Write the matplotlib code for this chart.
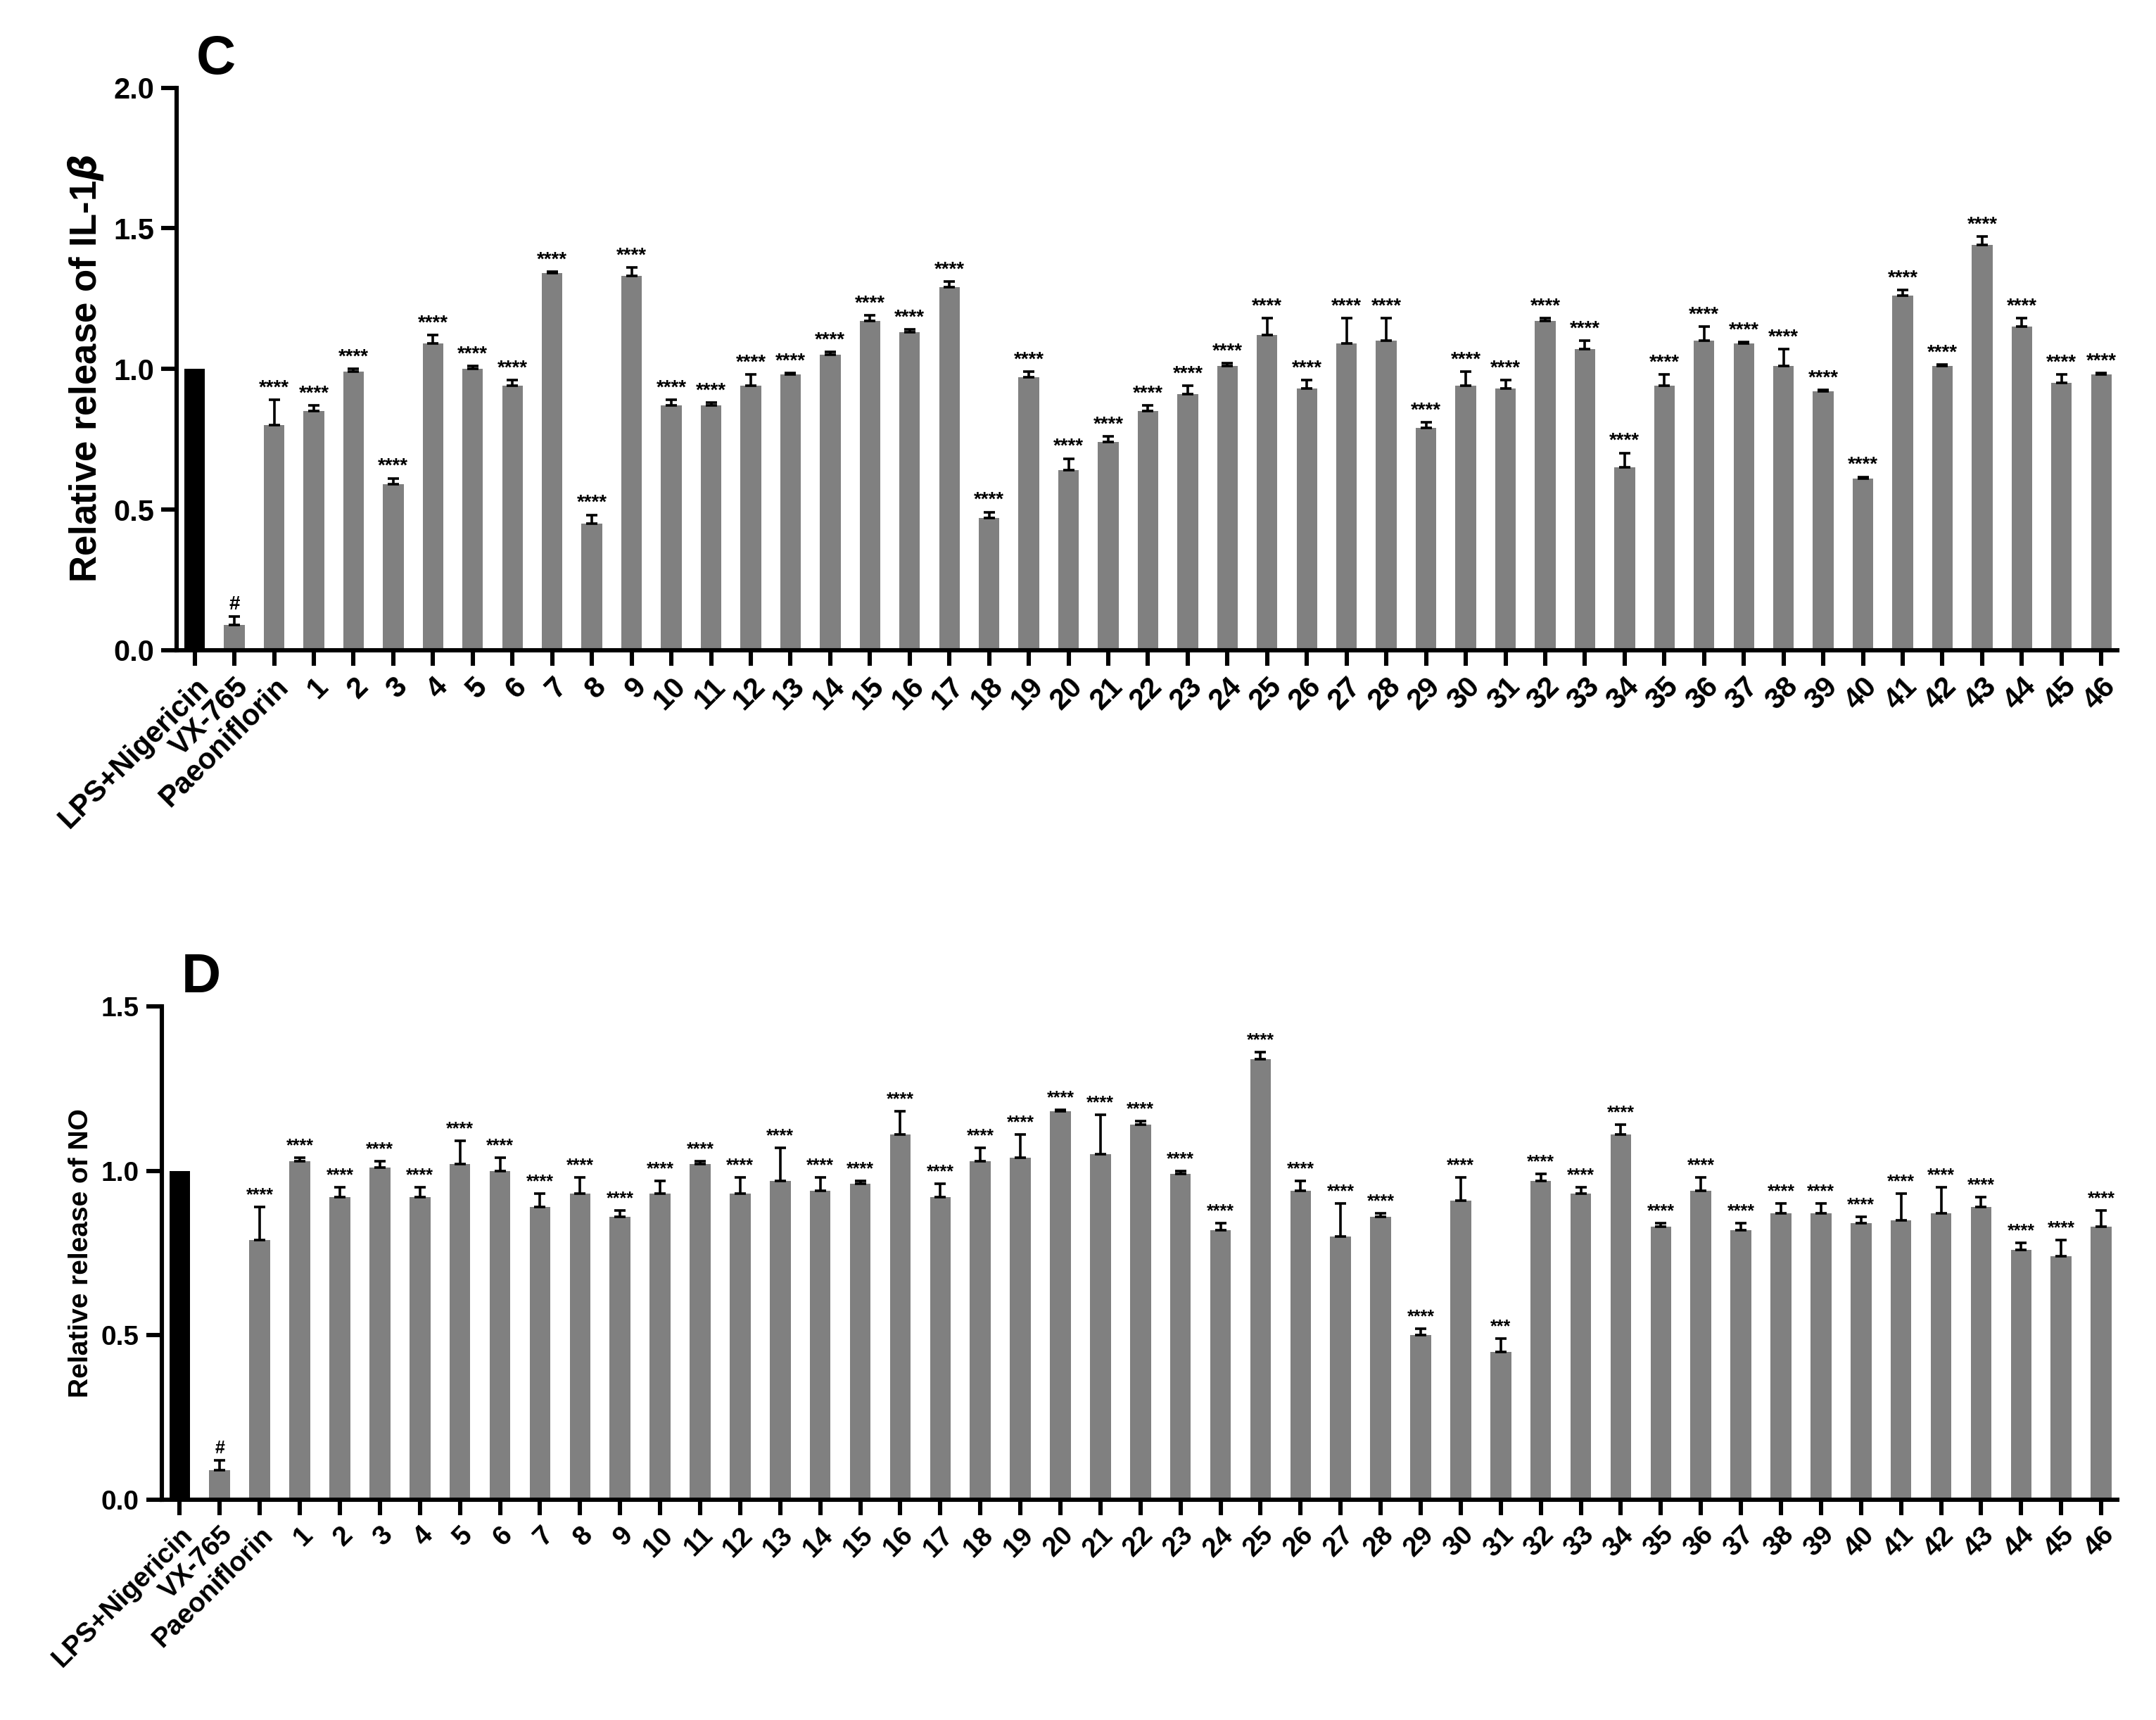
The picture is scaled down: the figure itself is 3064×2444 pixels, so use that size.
import numpy as np
import matplotlib
matplotlib.use("Agg")
import matplotlib.pyplot as plt

plt.rcParams["font.family"] = ["Liberation Sans", "DejaVu Sans"]
plt.rcParams["font.weight"] = "bold"

labels = ["LPS+Nigericin", "VX-765", "Paeoniflorin"] + [str(i) for i in range(1, 47)]

il1b_mean = [1.00, 0.09, 0.80, 0.85, 0.99, 0.59, 1.09, 1.00, 0.94, 1.34, 0.45, 1.33,
             0.87, 0.87, 0.94, 0.98, 1.05, 1.17, 1.13, 1.29, 0.47, 0.97, 0.64, 0.74,
             0.85, 0.91, 1.01, 1.12, 0.93, 1.09, 1.10, 0.79, 0.94, 0.93, 1.17, 1.07,
             0.65, 0.94, 1.10, 1.09, 1.01, 0.92, 0.61, 1.26, 1.01, 1.44, 1.15, 0.95, 0.98]
il1b_err = [0.0, 0.03, 0.09, 0.02, 0.01, 0.02, 0.03, 0.01, 0.02, 0.005, 0.03, 0.03,
            0.02, 0.01, 0.04, 0.005, 0.01, 0.02, 0.01, 0.02, 0.02, 0.02, 0.04, 0.02,
            0.02, 0.03, 0.01, 0.06, 0.03, 0.09, 0.08, 0.02, 0.05, 0.03, 0.01, 0.03,
            0.05, 0.04, 0.05, 0.005, 0.06, 0.005, 0.005, 0.02, 0.005, 0.03, 0.03, 0.03, 0.005]
il1b_sig = ["", "#"] + ["****"] * 47

no_mean = [1.00, 0.09, 0.79, 1.03, 0.92, 1.01, 0.92, 1.02, 1.00, 0.89, 0.93, 0.86,
           0.93, 1.02, 0.93, 0.97, 0.94, 0.96, 1.11, 0.92, 1.03, 1.04, 1.18, 1.05,
           1.14, 0.99, 0.82, 1.34, 0.94, 0.80, 0.86, 0.50, 0.91, 0.45, 0.97, 0.93,
           1.11, 0.83, 0.94, 0.82, 0.87, 0.87, 0.84, 0.85, 0.87, 0.89, 0.76, 0.74, 0.83]
no_err = [0.0, 0.03, 0.10, 0.01, 0.03, 0.02, 0.03, 0.07, 0.04, 0.04, 0.05, 0.02,
          0.04, 0.01, 0.05, 0.10, 0.04, 0.01, 0.07, 0.04, 0.04, 0.07, 0.005, 0.12,
          0.01, 0.01, 0.02, 0.02, 0.03, 0.10, 0.01, 0.02, 0.07, 0.04, 0.02, 0.02,
          0.03, 0.01, 0.04, 0.02, 0.03, 0.03, 0.02, 0.08, 0.08, 0.03, 0.02, 0.05, 0.05]
no_sig = ["", "#"] + ["****"] * 47
no_sig[2 + 31] = "***"


def draw_panel(ax, mean, err, sig, ylim, yticks, ylabel, letter, tick_fs, ylab_fs, star_fs, pad):
    x = np.arange(len(mean))
    colors = ["black"] + ["#808080"] * (len(mean) - 1)
    lower = np.zeros(len(mean))
    ax.bar(x, mean, width=0.52, color=colors, zorder=2)
    ax.errorbar(x[1:], mean[1:], yerr=[lower[1:], err[1:]], fmt="none",
                ecolor="black", elinewidth=1.3, capsize=3, capthick=1.3, zorder=3)
    for xi, m, e, s in zip(x, mean, err, sig):
        if s:
            ax.text(xi, m + e + pad, s, ha="center", va="bottom",
                    fontsize=star_fs, fontweight="bold")
    ax.set_xlim(-0.45, len(mean) - 0.6)
    ax.set_ylim(*ylim)
    ax.set_yticks(yticks)
    ax.set_yticklabels([f"{t:.1f}" for t in yticks], fontsize=tick_fs, fontweight="bold")
    ax.set_xticks(x)
    ax.set_xticklabels(labels, rotation=45, ha="right", rotation_mode="anchor",
                       fontsize=tick_fs, fontweight="bold")
    ax.set_ylabel(ylabel, fontsize=ylab_fs, fontweight="bold")
    for side in ("top", "right"):
        ax.spines[side].set_visible(False)
    for side in ("left", "bottom"):
        ax.spines[side].set_linewidth(2.2)
    ax.tick_params(width=2.2, length=8)
    ax.text(0.01, 1.005, letter, transform=ax.transAxes, fontsize=28,
            fontweight="bold", va="bottom", ha="left")


fig = plt.figure(figsize=(15.32, 12.22), dpi=200)
ax1 = fig.add_axes([0.082, 0.622, 0.90, 0.327])
ax2 = fig.add_axes([0.075, 0.128, 0.907, 0.287])

draw_panel(ax1, il1b_mean, il1b_err, il1b_sig, (0, 2.0), [0.0, 0.5, 1.0, 1.5, 2.0],
           "Relative release of IL-1$\\boldsymbol{\\beta}$", "C", 15, 19, 10, 0.01)
draw_panel(ax2, no_mean, no_err, no_sig, (0, 1.5), [0.0, 0.5, 1.0, 1.5],
           "Relative release of NO", "D", 14, 14, 9, 0.01)

fig.savefig("out.png", dpi=200)
